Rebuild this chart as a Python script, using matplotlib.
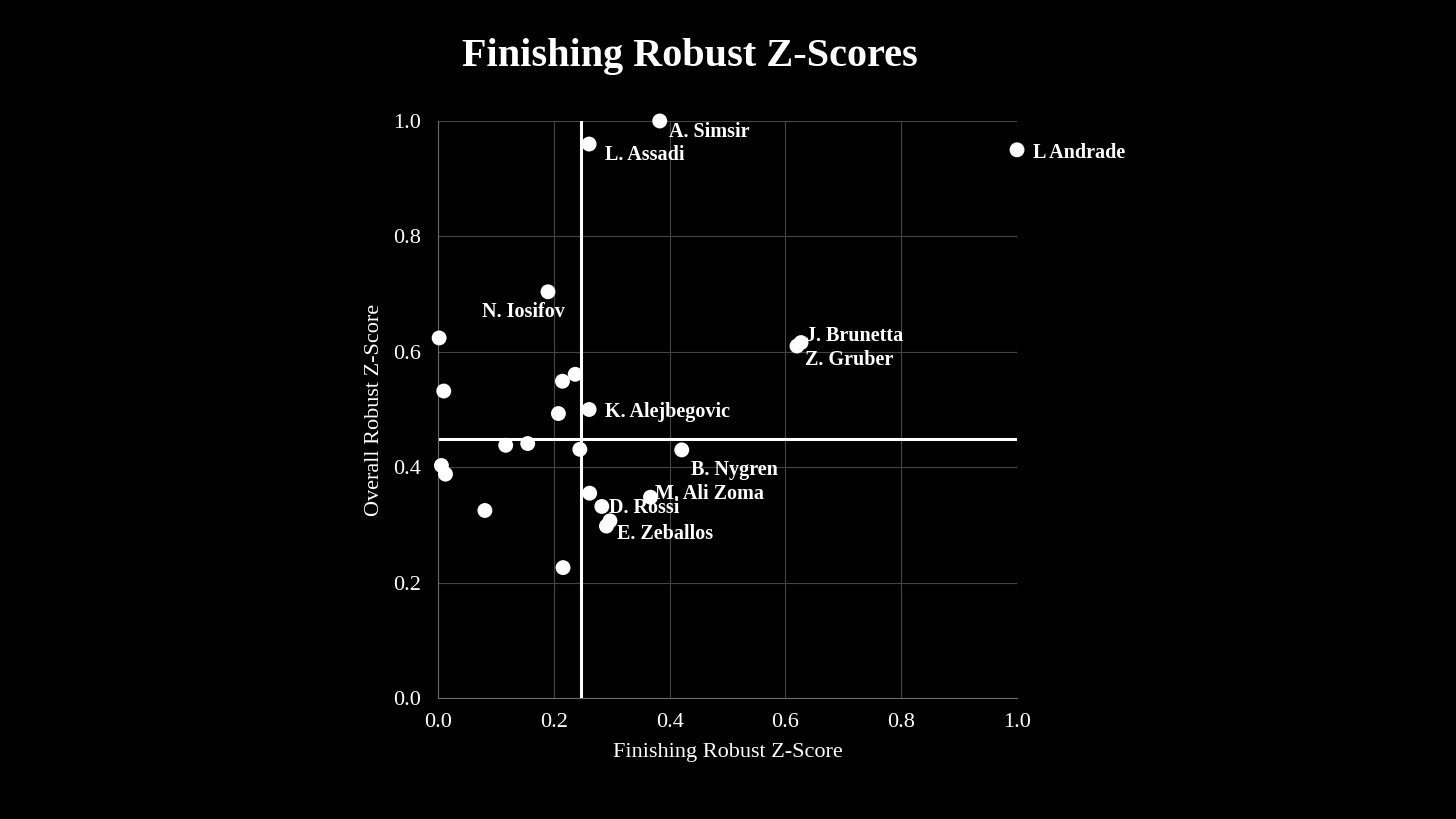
import matplotlib
matplotlib.use("Agg")
import matplotlib.pyplot as plt

# Spieler mit Beschriftung
names = ["A. Simsir", "L. Assadi", "L Andrade", "N. Iosifov", "J. Brunetta",
         "Z. Gruber", "K. Alejbegovic", "B. Nygren", "M. Ali Zoma", "D. Rossi",
         "E. Zeballos"]
named_x = [0.383, 0.261, 1.000, 0.190, 0.627, 0.620, 0.261, 0.421, 0.367, 0.283, 0.291]
named_y = [1.000, 0.960, 0.950, 0.704, 0.616, 0.610, 0.500, 0.430, 0.348, 0.332, 0.298]
# Versatz der Beschriftung in Pixeln (dx, dy)
label_dx = [9, 16, 16, -66, 5, 8, 16, 9, 5, 7, 11]
label_dy = [-11, -11, -3, -20, 7, -14, -3, -20, 3, -2, -8]

# Spieler ohne Beschriftung
other_x = [0.002, 0.010, 0.215, 0.237, 0.208, 0.117, 0.155, 0.245, 0.006,
           0.013, 0.081, 0.262, 0.297, 0.216]
other_y = [0.624, 0.532, 0.549, 0.561, 0.493, 0.438, 0.441, 0.431, 0.403,
           0.388, 0.325, 0.355, 0.307, 0.226]

# Mittelwerte (Quadranten-Linien)
x_mid = 0.247
y_mid = 0.449

plt.rcParams["font.family"] = ["Liberation Serif", "DejaVu Serif"]

fig = plt.figure(figsize=(14.56, 8.19), dpi=100, facecolor="black")
ax = fig.add_axes([0.3008, 0.1477, 0.3977, 0.7046], facecolor="black")

ax.set_xlim(0, 1)
ax.set_ylim(0, 1)
ticks = [0.0, 0.2, 0.4, 0.6, 0.8, 1.0]
ax.set_xticks(ticks)
ax.set_yticks(ticks)
ax.set_xticklabels([f"{t:.1f}" for t in ticks])
ax.set_yticklabels([f"{t:.1f}" for t in ticks])
ax.grid(True, color="#454545", linewidth=0.8)
ax.set_axisbelow(True)
for side in ("top", "right"):
    ax.spines[side].set_visible(False)
for side in ("left", "bottom"):
    ax.spines[side].set_color("#6a6a6a")
    ax.spines[side].set_linewidth(0.8)
ax.tick_params(colors="white", labelsize=16, length=0)
ax.tick_params(axis="x", pad=11)
ax.tick_params(axis="y", pad=12)

ax.axvline(x_mid, color="white", linewidth=2.2, zorder=2)
ax.axhline(y_mid, color="white", linewidth=2.2, zorder=2)

ax.scatter(other_x, other_y, s=115, color="white", edgecolors="none",
           zorder=3, clip_on=False)
ax.scatter(named_x, named_y, s=115, color="white", edgecolors="none",
           zorder=3, clip_on=False)

for name, x, y, dx, dy in zip(names, named_x, named_y, label_dx, label_dy):
    ax.annotate(name, (x, y), xytext=(dx, dy), textcoords="offset pixels",
                ha="left", va="center", color="white", fontsize=14.5,
                fontweight="bold", zorder=4, annotation_clip=False)

ax.set_xlabel("Finishing Robust Z-Score", color="white", fontsize=16, labelpad=8)
ax.set_ylabel("Overall Robust Z-Score", color="white", fontsize=16, labelpad=7)

fig.text(0.474, 0.931, "Finishing Robust Z-Scores", color="white", fontsize=29,
         fontweight="bold", ha="center", va="center")

fig.savefig("out.png", dpi=100, facecolor="black")
